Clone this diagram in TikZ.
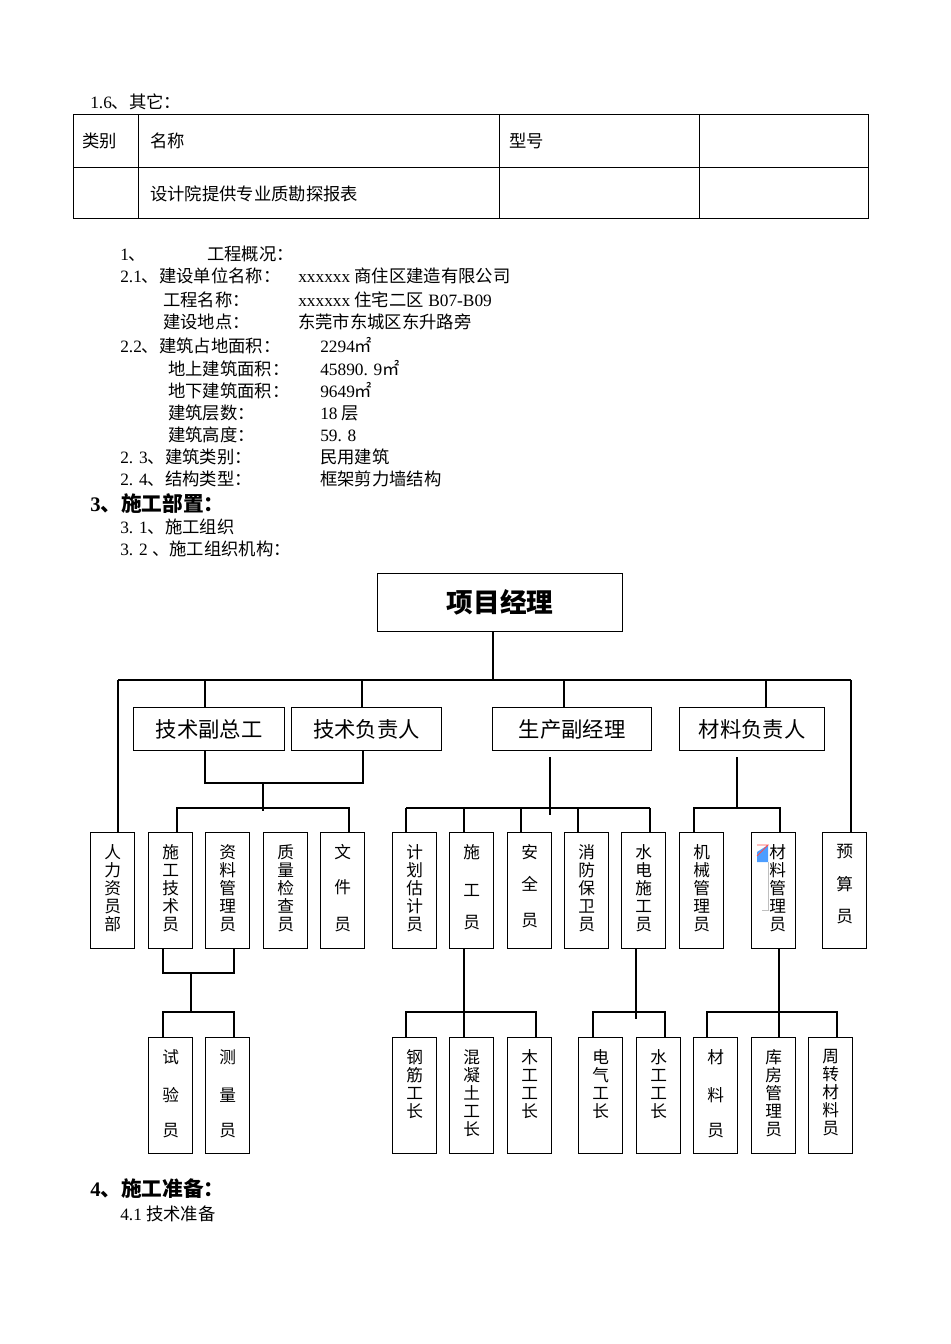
\documentclass[tikz,border=0pt]{standalone}
\usepackage{fontspec}
\setmainfont{Liberation Serif}
\newfontfamily\cjk{Noto Sans CJK SC}
\begin{document}
\begin{tikzpicture}[x=0.75pt,y=-0.75pt,
  txt/.style={anchor=base west,inner sep=0pt,font=\cjk\fontsize{13}{15}\selectfont},
  hd/.style={anchor=base west,inner sep=0pt,font=\cjk\bfseries\fontsize{15.5}{18}\selectfont},
  ln/.style={line width=0.9pt},
  lbox/.style={draw,line width=0.9pt,anchor=north west,inner sep=0pt,font=\cjk\fontsize{16}{18}\selectfont},
  cbox/.style={draw,line width=0.9pt,anchor=north west,inner sep=0pt}]
\useasboundingbox (0,0) rectangle (950,1344);
% heading and table
\node[txt] (t16) at (90,109) {{\rmfamily 1.6}、其它：};
\draw[line width=0.6pt] (73,114) rectangle (868,218);
\draw[line width=0.6pt] (73,167) -- (868,167);
\foreach \x in {138,499,699} \draw[line width=0.6pt] (\x,114) -- (\x,218);
\node[txt] (c1) at (82,148) {类别};
\node[txt] (c2) at (150,148) {名称};
\node[txt] (c3) at (509,148) {型号};
\node[txt] (c4) at (150,201) {设计院提供专业质勘探报表};
% overview text
\node[txt] at (120,261) {{\rmfamily 1}、};
\node[txt] at (207,261) {工程概况：};
\node[txt] at (120,283) {{\rmfamily 2.1}、建设单位名称：};
\node[txt] at (298,283) {{\rmfamily xxxxxx }商住区建造有限公司};
\node[txt] at (163,306) {工程名称：};
\node[txt] at (298,306) {{\rmfamily xxxxxx }住宅二区{\rmfamily\ B07-B09}};
\node[txt] at (163,329) {建设地点：};
\node[txt] at (298,329) {东莞市东城区东升路旁};
\node[txt] at (120,352) {{\rmfamily 2.2}、建筑占地面积：};
\node[txt] at (320,352) {{\rmfamily 2294}㎡};
\node[txt] at (168,375) {地上建筑面积：};
\node[txt] at (320,375) {{\rmfamily 45890. 9}㎡};
\node[txt] at (168,397) {地下建筑面积：};
\node[txt] at (320,397) {{\rmfamily 9649}㎡};
\node[txt] at (168,419) {建筑层数：};
\node[txt] at (320,419) {{\rmfamily 18 }层};
\node[txt] at (168,441) {建筑高度：};
\node[txt] at (320,441) {{\rmfamily 59. 8}};
\node[txt] at (120,463) {{\rmfamily 2. 3}、建筑类别：};
\node[txt] at (320,463) {民用建筑};
\node[txt] at (120,485) {{\rmfamily 2. 4}、结构类型：};
\node[txt] at (320,485) {框架剪力墙结构};
\node[hd] at (90,511) {{\rmfamily\bfseries 3}、施工部置：};
\node[txt] at (120,533) {{\rmfamily 3. 1}、施工组织};
\node[txt] at (120,555) {{\rmfamily 3. 2 }、施工组织机构：};
\node[hd] at (90,1196) {{\rmfamily\bfseries 4}、施工准备：};
\node[txt] at (120,1220) {{\rmfamily 4.1 }技术准备};
% org chart top
\node[draw,line width=0.9pt,anchor=north west,minimum width=245*0.75pt,minimum height=58*0.75pt,inner sep=0pt,font=\cjk\bfseries\fontsize{20}{22}\selectfont] (pm) at (377,573) {项目经理};
\node[lbox,minimum width=151*0.75pt,minimum height=43*0.75pt] (jsfz) at (133,707) {技术副总工};
\node[lbox,minimum width=150*0.75pt,minimum height=43*0.75pt] (jsfr) at (291,707) {技术负责人};
\node[lbox,minimum width=159*0.75pt,minimum height=43*0.75pt] (scfj) at (492,707) {生产副经理};
\node[lbox,minimum width=145*0.75pt,minimum height=43*0.75pt] (clfz) at (679,707) {材料负责人};
% column boxes
\newcommand\orgcol[5]{%
  \node[cbox,minimum width=44*0.75pt,minimum height=116*0.75pt] (#1) at (#2,#3) {};
  \node[anchor=north,inner sep=0pt,align=center,font=\cjk\fontsize{12.5}{13.5}\selectfont] (#1t) at ($(#1.north)+(0,#4)$) {#5};}
\usetikzlibrary{calc}
\orgcol{r1}{90}{832}{12}{人\\力\\资\\员\\部}
\orgcol{r2}{148}{832}{12}{施\\工\\技\\术\\员}
\orgcol{r3}{205}{832}{12}{资\\料\\管\\理\\员}
\orgcol{r4}{263}{832}{12}{质\\量\\检\\查\\员}
\orgcol{r5}{320}{832}{12}{文\\[13pt]件\\[14pt]员}
\orgcol{r6}{392}{832}{12}{计\\划\\估\\计\\员}
\orgcol{r7}{449}{832}{12}{施\\[15pt]工\\[11pt]员}
\orgcol{r8}{507}{832}{12}{安\\[11pt]全\\[13pt]员}
\orgcol{r9}{564}{832}{12}{消\\防\\保\\卫\\员}
\orgcol{r10}{621}{832}{12}{水\\电\\施\\工\\员}
\orgcol{r11}{679}{832}{12}{机\\械\\管\\理\\员}
\orgcol{r12}{751}{832}{12}{\hspace*{6pt}材\\\hspace*{6pt}料\\\hspace*{6pt}管\\\hspace*{6pt}理\\\hspace*{6pt}员}
\orgcol{r13}{822}{832}{12}{预\\[11pt]算\\[11pt]员}
\orgcol{b1}{148}{1037}{12}{试\\[15pt]验\\[13pt]员}
\orgcol{b2}{205}{1037}{12}{测\\[15pt]量\\[13pt]员}
\orgcol{b3}{392}{1037}{12}{钢\\筋\\工\\长}
\orgcol{b4}{449}{1037}{12}{混\\凝\\土\\工\\长}
\orgcol{b5}{507}{1037}{12}{木\\工\\工\\长}
\orgcol{b6}{578}{1037}{12}{电\\气\\工\\长}
\orgcol{b7}{636}{1037}{12}{水\\工\\工\\长}
\orgcol{b8}{693}{1037}{12}{材\\[15pt]料\\[13pt]员}
\orgcol{b9}{751}{1037}{12}{库\\房\\管\\理\\员}
\orgcol{b10}{808}{1037}{12}{周\\转\\材\\料\\员}
% broken image icon
\fill[blue!55!cyan!70] (757,852) -- (768,845) -- (768,862) -- (757,862) -- cycle;
\draw[red!70,line width=0.6pt] (757,845) -- (768,845) -- (757,856);
\draw[gray!50,line width=0.4pt] (768,862) -- (768,910) -- (762,910);
% connectors
\draw[ln] (493,631) -- (493,680);
\draw[ln] (118,680) -- (851,680);
\draw[ln] (118,680) -- (118,832);
\draw[ln] (851,680) -- (851,832);
\foreach \x in {205,362,564,766} \draw[ln] (\x,680) -- (\x,707);
\draw[ln] (205,750) -- (205,783) -- (363,783) -- (363,750);
\draw[ln] (263,783) -- (263,811);
\draw[ln] (177,832) -- (177,808) -- (349,808) -- (349,832);
\draw[ln] (550,757) -- (550,815);
\draw[ln] (406,808) -- (650,808);
\foreach \x in {406,464,521,578,650} \draw[ln] (\x,808) -- (\x,832);
\draw[ln] (737,757) -- (737,808);
\draw[ln] (694,832) -- (694,808) -- (780,808) -- (780,832);
\draw[ln] (163,948) -- (163,973) -- (234,973) -- (234,948);
\draw[ln] (191,973) -- (191,1012);
\draw[ln] (163,1037) -- (163,1012) -- (234,1012) -- (234,1037);
\draw[ln] (464,948) -- (464,1037);
\draw[ln] (406,1037) -- (406,1012) -- (536,1012) -- (536,1037);
\draw[ln] (636,948) -- (636,1019);
\draw[ln] (593,1037) -- (593,1012) -- (665,1012) -- (665,1037);
\draw[ln] (779,948) -- (779,1037);
\draw[ln] (707,1037) -- (707,1012) -- (837,1012) -- (837,1037);
\end{tikzpicture}
\end{document}
